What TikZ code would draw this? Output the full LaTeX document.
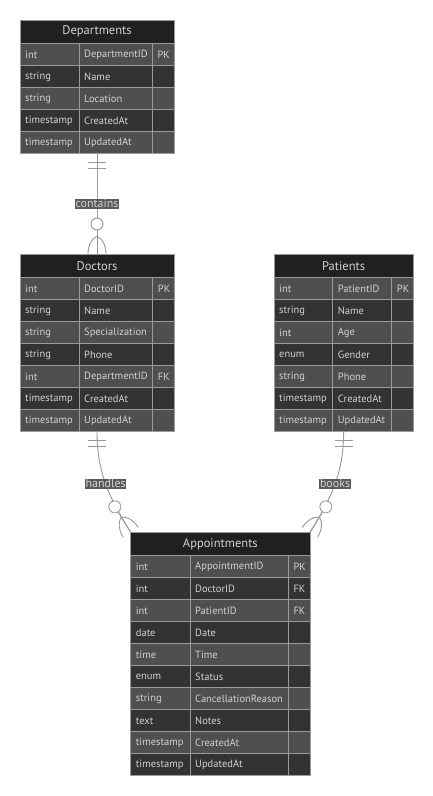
\documentclass[tikz,border=0pt]{standalone}
\usepackage{fontspec}
\setmainfont{PT Sans}
\usetikzlibrary{fit,calc}
\pgfdeclarelayer{paper}
\pgfdeclarelayer{bg}
\pgfsetlayers{paper,bg,main}
\definecolor{hdr}{HTML}{1F2020}
\definecolor{rowA}{HTML}{4F4F4F}
\definecolor{rowB}{HTML}{333333}
\definecolor{gridc}{HTML}{9A9A9A}
\definecolor{txt}{HTML}{D2D2D2}
\definecolor{lblbg}{HTML}{5A5A5A}
\definecolor{edgec}{HTML}{999999}
\tikzset{
  gridline/.style={draw=gridc, line width=0.9pt},
  ercell/.style={anchor=west, inner sep=0pt, text=txt, font=\fontsize{10.5}{12}\selectfont},
  tabtitle/.style={inner sep=0pt, text=txt, font=\fontsize{12.5}{14}\selectfont},
  rel/.style={draw=edgec, line width=0.9pt},
  lbl/.style={fill=lblbg, text=txt, inner xsep=0.6pt, inner ysep=0.6pt, font=\fontsize{12}{13}\selectfont},
  crowfoot/.pic={
    \draw[rel] (0,-18) .. controls (-6,-15) and (-9,-8) .. (-9,0);
    \draw[rel] (0,-18) .. controls (6,-15) and (9,-8) .. (9,0);
    \draw[rel] (0,-24) -- (0,0);
    \draw[rel, fill=white] (0,-30) circle (6);
  },
  onebar/.pic={
    \draw[rel] (-9,9) -- (9,9) (-9,15) -- (9,15);
  }
}
\newcommand\ertable[8]{%
  \fill[hdr] (#2,#6) rectangle (#5,#6+23.5);
  \node[tabtitle] (#1-h) at ({(#2+#5)/2},{#6+11.75}) {#7};
  \foreach \ty/\nm/\ky [count=\i] in {#8} {%
    \pgfmathsetmacro\ya{#6+23.5+(\i-1)*22}%
    \pgfmathsetmacro\yb{\ya+22}%
    \ifodd\i\relax\def\rc{rowA}\else\def\rc{rowB}\fi
    \fill[\rc] (#2,\ya) rectangle (#5,\yb);
    \draw[gridline] (#2,\ya) -- (#5,\ya) (#3,\ya) -- (#3,\yb) (#4,\ya) -- (#4,\yb);
    \node[ercell] (#1-\i-a) at ({#2+5},{\ya+11}) {\ty};
    \node[ercell] (#1-\i-b) at ({#3+5},{\ya+11}) {\nm};
    \node[ercell] (#1-\i-c) at ({#4+5},{\ya+11}) {\ky};
    \xdef\lastyb{\yb}%
  }
  \draw[gridline] (#2,#6) rectangle (#5,\lastyb);
  \path (#2,#6) coordinate (#1-nw) (#5,\lastyb) coordinate (#1-se);
  \node[fit=(#1-nw)(#1-se), inner sep=0pt, outer sep=0pt] (#1) {};
}
\begin{document}
\begin{tikzpicture}[x=1pt,y=-1pt]
\begin{pgfonlayer}{paper}
\useasboundingbox[fill=white] (0,0) rectangle (433,796);
\end{pgfonlayer}
% tables
\ertable{dep}{20}{79}{152.3}{174}{20}{Departments}{int/DepartmentID/PK, string/Name/{}, string/Location/{}, timestamp/CreatedAt/{}, timestamp/UpdatedAt/{}}
\ertable{doc}{20}{79}{152.7}{174}{254}{Doctors}{int/DoctorID/PK, string/Name/{}, string/Specialization/{}, string/Phone/{}, int/DepartmentID/FK, timestamp/CreatedAt/{}, timestamp/UpdatedAt/{}}
\ertable{pat}{274}{332.7}{391.7}{413.3}{254}{Patients}{int/PatientID/PK, string/Name/{}, int/Age/{}, enum/Gender/{}, string/Phone/{}, timestamp/CreatedAt/{}, timestamp/UpdatedAt/{}}
\ertable{app}{130.7}{190}{288.3}{310}{532.3}{Appointments}{int/AppointmentID/PK, int/DoctorID/FK, int/PatientID/FK, date/Date/{}, time/Time/{}, enum/Status/{}, string/CancellationReason/{}, text/Notes/{}, timestamp/CreatedAt/{}, timestamp/UpdatedAt/{}}
% connectors (behind the tables)
\begin{pgfonlayer}{bg}
\draw[rel] (dep.south) -- node[lbl]{contains} (doc.north);
\pic at (dep.south) {onebar};
\pic at (doc.north) {crowfoot};
\draw[rel] (doc.south) .. controls ($(doc.south)+(0,40.5)$) and (108.7,497) .. (app.north west) node[lbl,pos=0.5]{handles};
\pic at (doc.south) {onebar};
\pic[rotate=31.9] at (app.north west) {crowfoot};
\draw[rel] (pat.south) .. controls ($(pat.south)+(0,40.5)$) and (332,497) .. (app.north east) node[lbl,pos=0.5]{books};
\pic at (pat.south) {onebar};
\pic[rotate=-31.9] at (app.north east) {crowfoot};
\end{pgfonlayer}
\end{tikzpicture}
\end{document}
